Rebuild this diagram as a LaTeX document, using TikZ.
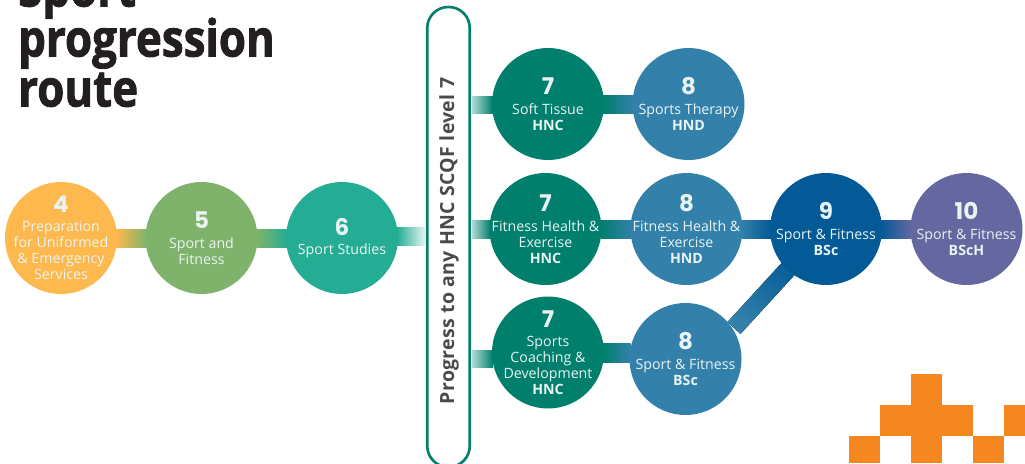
\documentclass[tikz,border=0pt]{standalone}
\usepackage{fontspec}
\setmainfont{Open Sans}
\newfontfamily\numfont{Poppins}[BoldFont=* Bold]
\newfontfamily\titlefont{Open Sans}[BoldFeatures={FakeBold=1.6,FakeStretch=0.86}]
\newfontfamily\pillfont{Open Sans}[LetterSpace=1.6]
\usetikzlibrary{calc,backgrounds}
\definecolor{lvFour}{HTML}{FDB94D}
\definecolor{lvFiv}{HTML}{7FB36B}
\definecolor{lvSix}{HTML}{24AD94}
\definecolor{lvSev}{HTML}{007F6D}
\definecolor{lvEig}{HTML}{3380AA}
\definecolor{lvNin}{HTML}{035A96}
\definecolor{lvTen}{HTML}{6567A0}
\definecolor{pillc}{HTML}{007F6D}
\definecolor{orangec}{HTML}{F58720}
\definecolor{inkc}{HTML}{231F20}
\definecolor{labelc}{HTML}{4A4A4A}
\definecolor{textc}{HTML}{E9F4F2}
\newcommand{\nmf}{\numfont\bfseries\fontsize{23}{24}\selectfont}
\tikzset{
  x=1pt,y=-1pt,
  stagedot/.style={circle,inner sep=0pt,outer sep=0pt,minimum size=112pt},
  stagetext/.style={align=center,text=textc,font=\fontsize{14.2}{16}\selectfont,inner sep=0pt},
  pillbox/.style={rectangle,rounded corners=21pt,draw=pillc,line width=2.6pt,fill=white,inner sep=0pt,minimum width=42.5pt,minimum height=460pt},
  titletext/.style={anchor=base west,inner sep=0pt,text=inkc,font=\titlefont\bfseries\fontsize{51}{50}\selectfont},
  pilltext/.style={rotate=90,inner sep=0pt,text=labelc,font=\pillfont\bfseries\fontsize{19.5}{22}\selectfont},
  block/.style={fill=orangec},
}
\begin{document}
\begin{tikzpicture}
\useasboundingbox (0,0) rectangle (1025,463);
% title
\node[titletext] (title1) at (18,6.5) {Sport};
\node[titletext] (title2) at (18,56.5) {progression};
\node[titletext] (title3) at (18,106.5) {route};
% pill
\node[pillbox] (pill) at (448.5,237) {};
\node[pilltext] (pilllabel) at (449,241) {Progress to any HNC SCQF level 7};
% stages
\node[stagedot,fill=lvFour] (s4) at (61,238) {};
\node[stagetext] (ts4) at (s4) {{\nmf 4}\\[3.5pt]Preparation\\for Uniformed\\\& Emergency\\Services};
\node[stagedot,fill=lvFiv] (s5) at (201.5,238) {};
\node[stagetext] (ts5) at (s5) {{\nmf 5}\\[3.5pt]Sport and\\Fitness};
\node[stagedot,fill=lvSix] (s6) at (342,238) {};
\node[stagetext] (ts6) at (s6) {{\nmf 6}\\[3.5pt]Sport Studies};
\node[stagedot,fill=lvSev] (a7) at (548,104) {};
\node[stagetext] (ta7) at (a7) {{\nmf 7}\\[3.5pt]Soft Tissue\\\textbf{HNC}};
\node[stagedot,fill=lvEig] (a8) at (688.5,104) {};
\node[stagetext] (ta8) at (a8) {{\nmf 8}\\[3.5pt]Sports Therapy\\\textbf{HND}};
\node[stagedot,fill=lvSev] (b7) at (545.5,229) {};
\node[stagetext] (tb7) at (b7) {{\nmf 7}\\[3.5pt]Fitness Health \&\\Exercise\\\textbf{HNC}};
\node[stagedot,fill=lvEig] (b8) at (686.5,229) {};
\node[stagetext] (tb8) at (b8) {{\nmf 8}\\[3.5pt]Fitness Health \&\\Exercise\\\textbf{HND}};
\node[stagedot,fill=lvNin] (b9) at (826,229) {};
\node[stagetext] (tb9) at (b9) {{\nmf 9}\\[3.5pt]Sport \& Fitness\\\textbf{BSc}};
\node[stagedot,fill=lvTen] (b10) at (966.5,229) {};
\node[stagetext] (tb10) at (b10) {{\nmf 10}\\[3.5pt]Sport \& Fitness\\\textbf{BScH}};
\node[stagedot,fill=lvSev] (c7) at (548,352.5) {};
\node[stagetext] (tc7) at (c7) {{\nmf 7}\\[3.5pt]Sports\\Coaching \&\\Development\\\textbf{HNC}};
\node[stagedot,fill=lvEig] (c8) at (685.5,359) {};
\node[stagetext] (tc8) at (c8) {{\nmf 8}\\[3.5pt]Sport \& Fitness\\\textbf{BSc}};
% connectors
\begin{scope}[on background layer]
\fill[left color=lvFour,right color=lvFiv] ($(s4.east)+(-1,-9)$) rectangle ($(s5.west)+(1,9)$);
\fill[left color=lvFiv,right color=lvSix] ($(s5.east)+(-1,-9)$) rectangle ($(s6.west)+(1,9)$);
\fill[left color=lvSix,right color=lvSix!12] ($(s6.east)+(-1,-11)$) rectangle ($(pill.west)+(-1,8)$);
\fill[left color=lvSev!30,right color=lvSev] ($(pill.east)+(1,-141)$) rectangle ($(a7.west)+(1,9)$);
\fill[left color=lvSev!30,right color=lvSev] ($(pill.east)+(1,-17)$) rectangle ($(b7.west)+(1,9)$);
\fill[left color=lvSev!30,right color=lvSev] ($(pill.east)+(1,113)$) rectangle ($(c7.west)+(1,15)$);
\fill[left color=lvSev,right color=lvEig] ($(a7.east)+(-1,-9)$) rectangle ($(a8.west)+(1,9)$);
\fill[left color=lvSev,right color=lvEig] ($(b7.east)+(-1,-9)$) rectangle ($(b8.west)+(1,9)$);
\fill[left color=lvSev,right color=lvEig] ($(c7.east)+(-1,-9)$) rectangle ($(c8.west)+(1,3)$);
\fill[left color=lvEig,right color=lvNin] ($(b8.east)+(-1,-9)$) rectangle ($(b9.west)+(1,9)$);
\fill[left color=lvNin,right color=lvTen] ($(b9.east)+(-1,-9)$) rectangle ($(b10.west)+(1,9)$);
\coordinate (dgA) at (734,328);
\coordinate (dgB) at (800,256);
\fill[top color=lvNin,bottom color=lvEig,shading angle=-45]
  ($(dgA)+(-6.5,-6)$) -- ($(dgB)+(-6.5,-6)$) -- ($(dgB)+(6.5,6)$) -- ($(dgA)+(6.5,6)$) -- cycle;
\end{scope}
% corner pattern
\fill[block] (911,374) rectangle (942,405);
\fill[block] (880,405) rectangle (973,436);
\fill[block] (1004,405) rectangle (1025,436);
\fill[block] (849,436) rectangle (880,463);
\fill[block] (911,436) rectangle (942,463);
\fill[block] (973,436) rectangle (1004,463);
\end{tikzpicture}
\end{document}
